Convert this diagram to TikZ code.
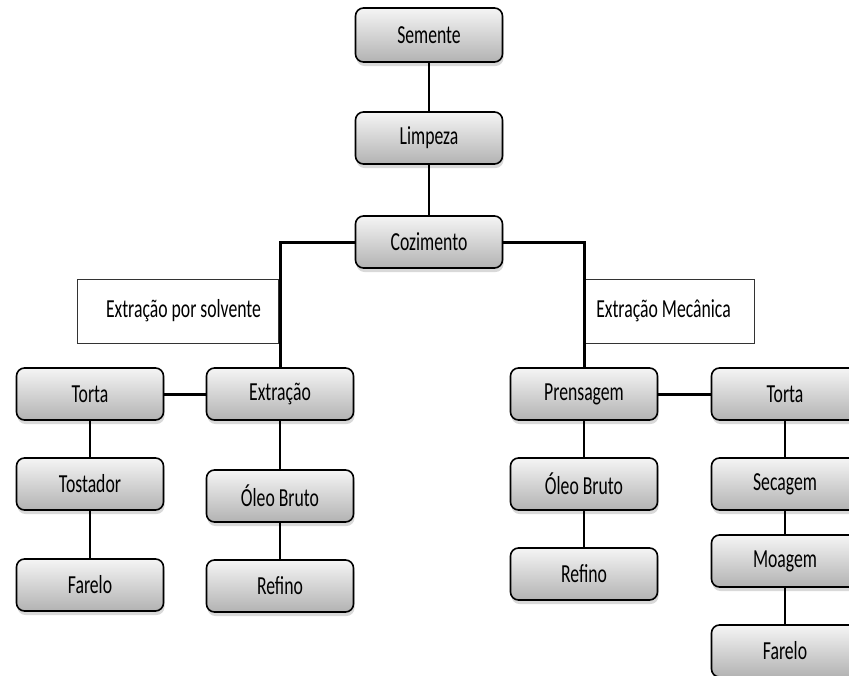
\documentclass[tikz,border=0pt]{standalone}
\usepackage{fontspec}
\setmainfont{Carlito}[FakeStretch=0.68]
\usetikzlibrary{shadows}

\begin{document}
\begin{tikzpicture}[x=1pt, y=-1pt,
    stepbox/.style={draw, rounded corners=8pt, line width=1.6pt,
        minimum width=147pt, minimum height=52pt,
        top color=black!4, bottom color=black!30,
        drop shadow={shadow xshift=1pt, shadow yshift=-4pt, opacity=0.3},
        font=\fontsize{26}{30}\selectfont},
    labelbox/.style={draw=black!80, line width=1pt, fill=white,
        minimum height=64pt, font=\fontsize{26}{30}\selectfont},
    link/.style={line width=2pt},
    thicklink/.style={line width=3pt}]
    %--------------------%
    % Parameters
    %--------------------%
    \def\colA{90}
    \def\colB{280}
    \def\colC{584}
    \def\colD{785}
    \def\rowtop{394}

    \useasboundingbox (0,0) rectangle (849,675);

    %--------------------%
    % Main Trunk
    %--------------------%
    \node[stepbox, minimum height=54pt] (semente) at (429,35) {Semente};
    \node[stepbox] (limpeza) at (429,138) {Limpeza};
    \node[stepbox] (cozimento) at (429,242) {Cozimento};

    %--------------------%
    % Branch Labels
    %--------------------%
    \node[labelbox, minimum width=201pt] (solvlabel) at (177.5,311) {\hspace*{12pt}Extração por solvente};
    \node[labelbox, minimum width=171pt] (mecalabel) at (668.5,311) {Extração Mecânica\hspace*{10pt}};

    %--------------------%
    % Solvent Branch
    %--------------------%
    \node[stepbox] (tortaA) at (\colA,\rowtop) {Torta};
    \node[stepbox] (extracao) at (\colB,\rowtop) {Extração};
    \node[stepbox] (tostador) at (\colA,484) {Tostador};
    \node[stepbox] (oleoA) at (\colB,496) {Óleo Bruto};
    \node[stepbox] (fareloA) at (\colA,585) {Farelo};
    \node[stepbox] (refinoA) at (\colB,586) {Refino};

    %--------------------%
    % Mechanical Branch
    %--------------------%
    \node[stepbox] (prensagem) at (\colC,\rowtop) {Prensagem};
    \node[stepbox] (tortaB) at (\colD,\rowtop) {Torta};
    \node[stepbox] (oleoB) at (\colC,484) {Óleo Bruto};
    \node[stepbox] (secagem) at (\colD,484) {Secagem};
    \node[stepbox] (refinoB) at (\colC,574) {Refino};
    \node[stepbox] (moagem) at (\colD,561) {Moagem};
    \node[stepbox] (fareloB) at (\colD,651) {Farelo};

    %--------------------%
    % Connections
    %--------------------%
    % Trunk
    \draw[link] (semente) -- (limpeza);
    \draw[link] (limpeza) -- (cozimento);
    \draw[thicklink] (cozimento.west) -| (extracao.north);
    \draw[thicklink] (cozimento.east) -| (prensagem.north);

    % Solvent branch
    \draw[thicklink] (tortaA) -- (extracao);
    \draw[link] (tortaA) -- (tostador);
    \draw[link] (tostador) -- (fareloA);
    \draw[link] (extracao) -- (oleoA);
    \draw[link] (oleoA) -- (refinoA);

    % Mechanical branch
    \draw[thicklink] (prensagem) -- (tortaB);
    \draw[link] (prensagem) -- (oleoB);
    \draw[link] (oleoB) -- (refinoB);
    \draw[link] (tortaB) -- (secagem);
    \draw[link] (secagem) -- (moagem);
    \draw[link] (moagem) -- (fareloB);

\end{tikzpicture}
\end{document}
